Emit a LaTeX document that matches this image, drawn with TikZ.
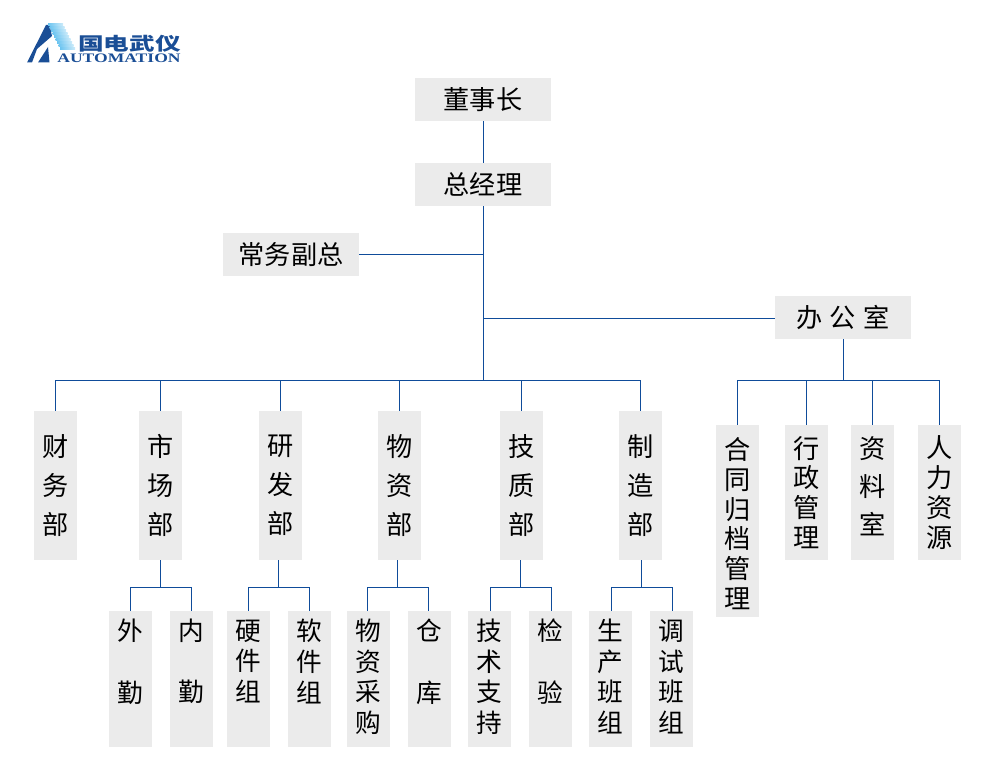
\documentclass[tikz,border=0pt]{standalone}
\usepackage{graphicx}
\usepackage{fontspec}
\setmainfont{Noto Sans CJK SC}
\newfontfamily\logolatin{Liberation Serif}
\usetikzlibrary{positioning}
\definecolor{boxgray}{HTML}{EBEBEB}
\definecolor{linkblue}{HTML}{0F4C9A}
\definecolor{logoblue}{HTML}{1A4E96}
\definecolor{logolight}{HTML}{6CC4F0}
\begin{document}
\begin{tikzpicture}[x=0.02cm, y=-0.02cm,
every node/.style={fill=boxgray, inner sep=0pt, align=center, text=black},
topbox/.style={minimum width=2.72cm, minimum height=0.86cm, font=\fontsize{14.9}{18}\selectfont},
deptbox/.style={minimum width=0.86cm, minimum height=2.98cm, font=\fontsize{14.9}{22.2}\selectfont},
subbox/.style={minimum width=0.86cm, minimum height=2.72cm, font=\fontsize{14.6}{17.4}\selectfont, execute at end node={\rule[-3.5pt]{0pt}{0pt}}},
adminbox/.style={minimum width=0.86cm, font=\fontsize{14.9}{17}\selectfont},
logotext/.style={fill=none, text=logoblue},
link/.style={draw=linkblue, line width=0.65pt}]
\useasboundingbox (0,0) rectangle (1000,770);
% logo
\fill[logoblue] (27,62.5) -- (46,25) -- (49.5,25) -- (52,36) -- (37,49) -- (32,62.5) -- cycle;
\fill[logoblue] (38,62.5) -- (48,47) -- (49.5,62.5) -- cycle;
\foreach \y/\x in {24/48,27/49.5,30/51,33/52.5,36/54,39/55.5,42/57,45/58.5,48/60}
  \fill[left color=logolight, right color=logolight!35] (\x,\y) rectangle (\x+15,\y+1.4);
\node[logotext, font=\fontsize{14.6}{16}\bfseries\selectfont] (logocn) at (129.5,43.5) {\scalebox{1}[0.7]{国电武仪}};
\node[logotext, font=\fontsize{7.4}{8}\logolatin\bfseries\selectfont] (logoen) at (119,58.5) {\scalebox{1.35}[1]{AUTOMATION}};
% top of the chart
\node[topbox] (chairman) at (483,99.5) {董事长};
\node[topbox] (manager) at (483,184.5) {总经理};
\node[topbox] (deputy) at (291,254.5) {常务副总};
\node[topbox] (office) at (843,317.5) {办\hspace{4pt}公\hspace{4pt}室};
% departments
\node[deptbox] (finance) at (55.5,485.5) {财\\务\\部};
\node[deptbox] (market) at (160.5,485.5) {市\\场\\部};
\node[deptbox] (research) at (280.5,485.5) {研\\发\\部};
\node[deptbox] (supply) at (399.5,485.5) {物\\资\\部};
\node[deptbox] (quality) at (521.5,485.5) {技\\质\\部};
\node[deptbox] (making) at (640.5,485.5) {制\\造\\部};
% office groups
\node[adminbox, minimum height=3.84cm] (contract) at (737.5,521) {\rule{0pt}{15.5pt}合\\同\\归\\档\\管\\理};
\node[adminbox, minimum height=2.7cm] (admin) at (806.5,492.5) {行\\政\\管\\理};
\node[adminbox, minimum height=2.7cm] (archive) at (872.5,492.5) {资\\[4.5pt]料\\[4.5pt]室\\[-9pt]~};
\node[adminbox, minimum height=2.7cm] (staff) at (939.5,492.5) {人\\力\\资\\源};
% teams
\node[subbox] (outer) at (130.5,679) {外\\~\\勤\\~};
\node[subbox] (inner) at (191.5,679) {内\\~\\勤\\~};
\node[subbox] (hard) at (248.5,679) {硬\\件\\组\\~};
\node[subbox] (soft) at (309.5,679) {软\\件\\组\\~};
\node[subbox] (buying) at (368.5,679) {物\\资\\采\\购};
\node[subbox] (store) at (429.5,679) {仓\\~\\库\\~};
\node[subbox] (tech) at (489.5,679) {技\\术\\支\\持};
\node[subbox] (check) at (550.5,679) {检\\~\\验\\~};
\node[subbox] (prod) at (610.5,679) {生\\产\\班\\组};
\node[subbox] (debug) at (671.5,679) {调\\试\\班\\组};
% bus points
\coordinate (trunk) at (483.5,380.5);
\coordinate (officebus) at (843.5,380.5);
\coordinate (marketbus) at (160.5,587.5);
\coordinate (researchbus) at (278.5,587.5);
\coordinate (supplybus) at (397.5,587.5);
\coordinate (qualitybus) at (520.5,587.5);
\coordinate (makingbus) at (641.5,587.5);
% connectors
\draw[link] (trunk |- chairman.south) -- (trunk |- manager.north);
\draw[link] (trunk |- manager.south) -- (trunk);
\draw[link] (deputy) -- (deputy -| trunk);
\draw[link] ([yshift=-0.02cm]office.west) -- ([yshift=-0.02cm]office.west -| trunk);
\draw[link] (finance.north) |- (trunk) -| (making.north);
\foreach \n in {market,research,supply,quality}
  \draw[link] (\n.north) -- (\n.north |- trunk);
\draw[link] (officebus |- office.south) -- (officebus);
\draw[link] (contract.north) |- (officebus) -| (staff.north);
\foreach \n in {admin,archive}
  \draw[link] (\n.north) -- (\n.north |- officebus);
\foreach \p/\a/\b/\d in {market/outer/inner/0,research/hard/soft/0,supply/buying/store/-1,quality/tech/check/1,making/prod/debug/1} {
  \draw[link] (\p bus |- \p.south) -- (\p bus);
  \draw[link] ([shift={(\d,0)}]\a.north) |- (\p bus) -| ([shift={(\d,0)}]\b.north);
}
\end{tikzpicture}
\end{document}
